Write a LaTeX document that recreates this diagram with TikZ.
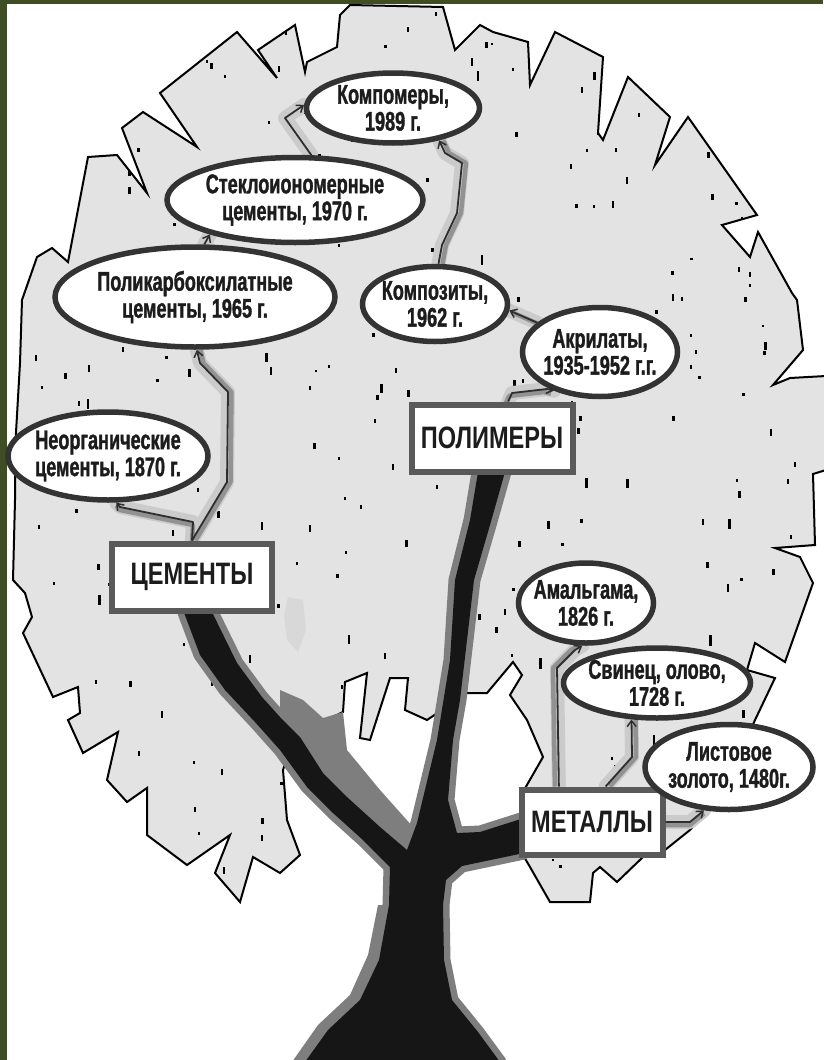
\documentclass[tikz,border=0pt]{standalone}
\usepackage{fontspec}
\setmainfont{Liberation Sans}
\newfontfamily\narrowsans[FakeStretch=0.67,FakeBold=1.2]{Liberation Sans}
\newfontfamily\boxsans[FakeStretch=0.76]{Liberation Sans}
\usetikzlibrary{shapes.geometric,arrows.meta}

\definecolor{framegreen}{HTML}{3F4C24}
\definecolor{crownfill}{HTML}{E3E3E3}
\definecolor{ringgray}{HTML}{333333}
\definecolor{boxgray}{HTML}{5A5A5A}
\definecolor{barkgray}{HTML}{7E7E7E}
\definecolor{barkblack}{HTML}{161616}
\definecolor{haze}{HTML}{CBCBCB}
\definecolor{bandgray}{HTML}{929292}
\definecolor{inkdark}{HTML}{1C1C1C}
\definecolor{linkdark}{HTML}{2E2E2E}

\pgfdeclarelayer{crownlayer}
\pgfdeclarelayer{hazelayer}
\pgfsetlayers{crownlayer,hazelayer,main}

% outline of the leafy crown (screen coordinates, y pointing down)
\def\crownpath{(13,580) -- (15,500) -- (15,450) -- (20,363) -- (22,300) -- (37,257) -- (52,248)
 -- (68,262) -- (88,157) -- (117,155) -- (147,193) -- (122,128) -- (143,112) -- (197,147)
 -- (160,93) -- (237,32) -- (277,78) -- (258,50) -- (295,25) -- (305,72) -- (307,62)
 -- (337,47) -- (340,15) -- (350,5) -- (443,7) -- (455,50) -- (480,25) -- (493,32)
 -- (528,42) -- (530,85) -- (555,32) -- (603,57) -- (598,133) -- (603,140) -- (628,77)
 -- (670,117) -- (655,165) -- (688,117) -- (757,215) -- (722,225) -- (750,257) -- (758,232)
 -- (792,293) -- (797,300) -- (803,350) -- (773,385) -- (790,378) -- (826,376) -- (826,470)
 -- (813,474) -- (815,545) -- (775,548) -- (800,557) -- (813,583) -- (785,662) -- (755,643)
 -- (747,670) -- (775,678) -- (755,720) -- (725,790) -- (690,830) -- (665,850) -- (643,857)
 -- (617,882) -- (600,867) -- (593,873) -- (590,902) -- (550,902) -- (530,867) -- (520,850)
 -- (520,797) -- (543,757) -- (527,720) -- (510,695) -- (522,675) -- (513,662) -- (487,693)
 -- (467,693) -- (427,720) -- (405,710) -- (408,678) -- (390,678) -- (370,740) -- (360,738)
 -- (367,673) -- (345,682) -- (343,712) -- (295,735) -- (283,770) -- (287,820) -- (300,855)
 -- (280,873) -- (253,857) -- (240,902) -- (215,873) -- (230,835) -- (187,865) -- (147,835)
 -- (147,788) -- (127,802) -- (107,780) -- (118,732) -- (83,753) -- (68,720) -- (80,713)
 -- (78,687) -- (53,697) -- (23,633) -- (32,617) -- (25,593) -- cycle}

% trunk with its three branches
\def\trunkpath{(478,472) -- (505,472) -- (490,525) -- (474,580) -- (467,640) -- (460,700)
 -- (453,740) -- (448,800) -- (457,833) -- (480,832) -- (524,818) -- (524,853) -- (462,866)
 -- (446,880) -- (443,905) -- (444,960) -- (452,1000) -- (478,1032) -- (500,1062)
 -- (305,1062) -- (328,1030) -- (360,1000) -- (379,960) -- (389,905) -- (390,867)
 -- (363,840) -- (333,813) -- (307,787) -- (280,750) -- (255,722) -- (225,690) -- (200,655)
 -- (183,610) -- (211,610) -- (237,663) -- (262,697) -- (280,717) -- (300,737) -- (323,773)
 -- (347,797) -- (380,827) -- (407,850) -- (417,823) -- (437,740) -- (450,660) -- (455,580)
 -- (470,520) -- cycle}

\tikzset{
  ell/.style={ellipse, draw=ringgray, line width=5.5pt, fill=white, inner sep=-100pt,
    align=center, text=inkdark, font=\narrowsans\bfseries\fontsize{27}{27}\selectfont},
  groupbox/.style={rectangle, draw=boxgray, line width=6pt, fill=white, inner sep=0pt,
    text=inkdark, font=\boxsans\bfseries\fontsize{31}{31}\selectfont},
  link/.style={draw=linkdark, line width=1.8pt, line join=round,
    -{Straight Barb[length=6pt,width=9pt,line width=1.5pt]}},
  glow/.style={draw=haze, line width=14pt, line join=round, line cap=round},
  band/.style={draw=bandgray, line width=4.5pt, line join=round}
}

\begin{document}
\begin{tikzpicture}[x=1pt,y=-1pt]
\useasboundingbox (0,0) rectangle (823,1060);

\begin{pgfonlayer}{crownlayer}
  \fill[white] (0,0) rectangle (823,1060);
  % crown
  \fill[crownfill] \crownpath;
  \begin{scope}
    \clip \crownpath;
    \pgfmathsetseed{4171}
    \foreach \i in {1,...,330}{
      \pgfmathsetmacro\xx{15+rnd*805}
      \pgfmathsetmacro\yy{10+rnd*880}
      \pgfmathsetmacro\hh{2.5+rnd*rnd*10}
      \fill[black] (\xx,\yy) rectangle ++(2.4,\hh);
    }
    \fill[haze, opacity=.45] (288,597) -- (303,600) -- (306,630) -- (298,652) -- (287,640) -- (284,615) -- cycle;
  \end{scope}
  \draw[black, line width=2pt, line join=miter] \crownpath;
  % trunk: grey rim, grey flank of the left branch, black wood
  \draw[barkgray, line width=13pt, line join=round] \trunkpath;
  \fill[barkgray] \trunkpath;
  \fill[barkgray] (280,690) -- (303,700) -- (323,718) -- (343,712) -- (347,750) -- (380,790)
    -- (413,827) -- (412,845) -- (407,850) -- (380,827) -- (347,797) -- (323,773) -- (300,737)
    -- (280,717) -- cycle;
  \fill[barkgray] (389,905) -- (379,960) -- (360,1000) -- (328,1030) -- (305,1062) -- (292,1062)
    -- (318,1025) -- (350,995) -- (368,955) -- (378,905) -- cycle;
  \fill[barkblack] \trunkpath;
\end{pgfonlayer}

% frame strips
\fill[framegreen] (0,0) rectangle (7,1060);
\fill[framegreen] (0,0) rectangle (823,4);

% group labels
\node[groupbox, minimum width=160, minimum height=67] (cem) at (192,577) {ЦЕМЕНТЫ};
\node[groupbox, minimum width=161, minimum height=67] (polim) at (492,438) {ПОЛИМЕРЫ};
\node[groupbox, minimum width=141, minimum height=65] (metal) at (592,822) {МЕТАЛЛЫ};

% materials with their dates
\node[ell, minimum width=200, minimum height=88] (neorg) at (108,456) {Неорганические\\цементы, 1870 г.};
\node[ell, minimum width=280, minimum height=100] (poly) at (195,297) {Поликарбоксилатные\\цементы, 1965 г.};
\node[ell, minimum width=256, minimum height=85] (stek) at (295,200) {Стеклоиономерные\\цементы, 1970 г.};
\node[ell, minimum width=173, minimum height=70] (kompo) at (393,108) {Компомеры,\\1989 г.};
\node[ell, minimum width=145, minimum height=75] (kompoz) at (435,304) {Композиты,\\1962 г.};
\node[ell, minimum width=155, minimum height=89] (akril) at (600,352) {Акрилаты,\\1935-1952 г.г.};
\node[ell, minimum width=135, minimum height=80] (amal) at (586,603) {Амальгама,\\1826 г.};
\node[ell, minimum width=187, minimum height=70] (svin) at (657,683) {Свинец, олово,\\1728 г.};
\node[ell, minimum width=168, minimum height=85] (list) at (729,767) {Листовое\\золото, 1480г.};

% connector routes
\def\cA{(cem.north) -- (193,522) -- (120,507) -- (neorg.-80)}
\def\cB{(cem.north) -- (227,482) -- (228,392) -- (200,363) -- (poly.-88)}
\def\cC{(poly.80) -- (stek.202)}
\def\cD{(stek.70) -- (285,118) -- (kompo.178)}
\def\cE{(kompoz.85) -- (442,245) -- (457,213) -- (462,163) -- (445,153) -- (kompo.-35)}
\def\cF{(akril.155) -- (kompoz.-5)}
\def\cG{(polim.66) -- (512,393) -- (547,389) -- (akril.220)}
\def\cH{(metal.133) -- (557,668) -- (575,650) -- (amal.-95)}
\def\cI{(metal.69) -- (632,757) -- (svin.235)}
\def\cJ{(metal.east) -- (690,822) -- (list.240)}

\begin{pgfonlayer}{hazelayer}
  \foreach \c in {\cA,\cB,\cC,\cD,\cE,\cF,\cG,\cH,\cI,\cJ}{\draw[glow] \c;}
  \draw[band, transform canvas={yshift=-3pt}] \cA;
  \draw[band, transform canvas={xshift=3.5pt}] \cB;
  \draw[band, transform canvas={xshift=4pt}] \cE;
  \draw[band, transform canvas={xshift=3pt,yshift=-2pt}] \cF;
  \draw[band, transform canvas={xshift=-3pt,yshift=-3pt}] \cG;
  \draw[band, transform canvas={xshift=-4pt}] \cH;
  \draw[band, transform canvas={xshift=4pt}] \cI;
  \draw[band, transform canvas={yshift=-3pt}] \cJ;
\end{pgfonlayer}

\draw[link] \cA;
\draw[link] \cB;
\draw[link] \cC;
\draw[link] \cD;
\draw[link] \cE;
\draw[link] \cF;
\draw[link] \cG;
\draw[link] \cH;
\draw[link] \cI;
\draw[link] \cJ;
\end{tikzpicture}
\end{document}
